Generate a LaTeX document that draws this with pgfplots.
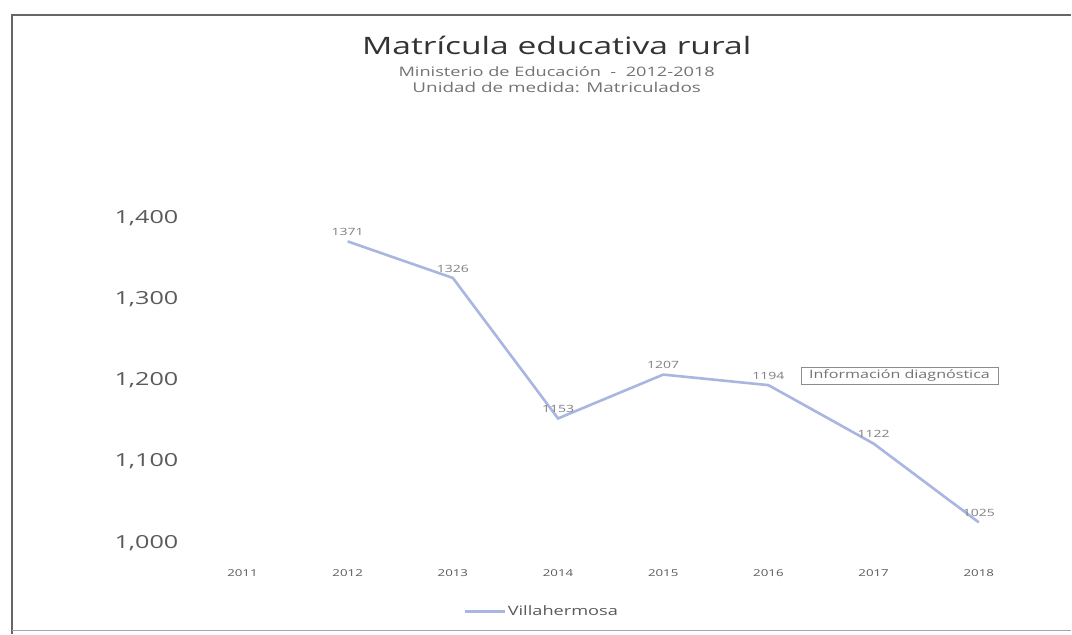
\documentclass[border=0pt]{standalone}
\usepackage{fontspec}
\setmainfont{Open Sans}[FakeStretch=1.4]
\usepackage{pgfplots}
\pgfplotsset{compat=1.18}
\definecolor{linec}{HTML}{A9B6DF}
\definecolor{tickc}{HTML}{5A5A5A}
\begin{document}
\begin{tikzpicture}[x=1pt,y=1pt]
\path[fill=white] (0,0) rectangle (1072,634);
\draw[black!60, line width=1.3pt] (12,0) -- (12,619) -- (1072,619);
\draw[black!35, line width=1pt] (12,3) -- (1072,3);
\node[text=black!80, font=\fontsize{24}{26}\selectfont] at (557,589) {Matrícula educativa rural};
\node[text=black!55, font=\fontsize{13}{14}\selectfont] at (557,562) {Ministerio de Educación \ - \ 2012-2018};
\node[text=black!55, font=\fontsize{13.5}{14}\selectfont] at (557,546) {Unidad de medida: Matriculados};
\begin{axis}[
  at={(190pt,91pt)}, anchor=south west,
  scale only axis, width=842pt, height=325pt,
  xmin=-0.5, xmax=7.5, ymin=1000, ymax=1400,
  axis line style={draw=none}, tick style={draw=none},
  clip=false,
  /pgf/number format/assume math mode=true,
  xtick={0,1,2,3,4,5,6,7},
  xticklabels={2011,2012,2013,2014,2015,2016,2017,2018},
  xticklabel style={font=\fontsize{9.5}{10}\selectfont, text=tickc, yshift=-23pt},
  ytick={1000,1100,1200,1300,1400},
  yticklabel style={font=\fontsize{18}{20}\selectfont, text=tickc, xshift=-8pt,
    /pgf/number format/1000 sep={,}},
  scaled y ticks=false,
  legend style={at={(0.418,-0.212)}, anchor=center, draw=none, fill=none,
    font=\fontsize{13}{14}\selectfont, text=tickc},
  legend image code/.code={\draw[#1] (0pt,0pt) -- (40pt,0pt);},
]
\addplot[color=linec, line width=2.6pt, mark=none,
  nodes near coords={\pgfmathprintnumber[1000 sep={}]{\pgfplotspointmeta}},
  every node near coord/.append style={font=\fontsize{10}{11}\selectfont, text=black!50, anchor=south, yshift=1pt},
] coordinates {
  (1,1371) (2,1326) (3,1153) (4,1207) (5,1194) (6,1122) (7,1025)
};
\addlegendentry{Villahermosa}
\end{axis}
\node[draw=black!45, fill=white, text=black!55, font=\fontsize{11.5}{12}\selectfont, inner xsep=8pt, inner ysep=2.5pt] at (900,258) {Información diagnóstica};
\end{tikzpicture}
\end{document}
